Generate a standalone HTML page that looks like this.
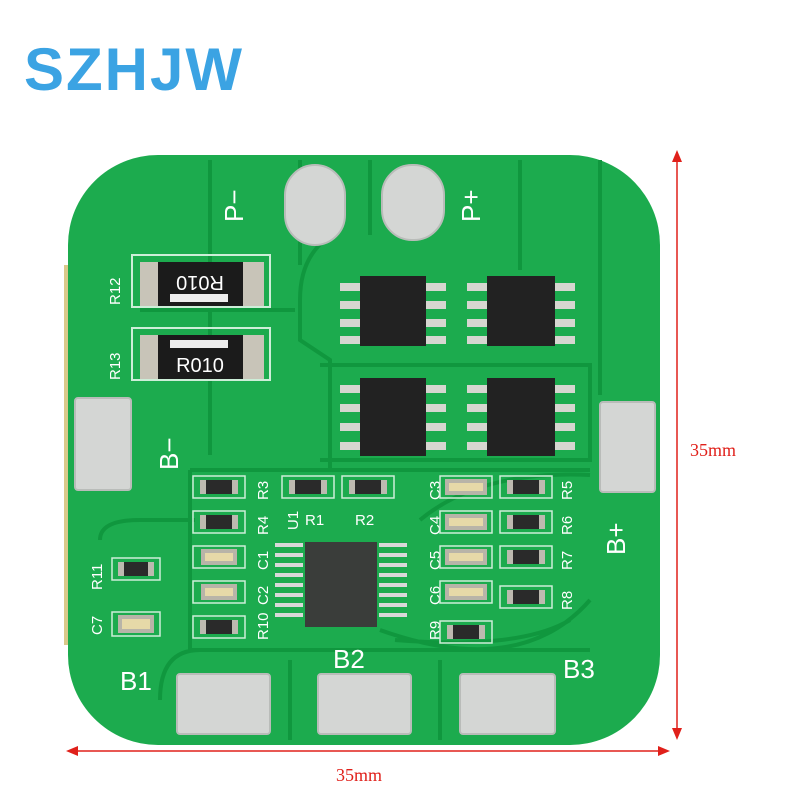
<!DOCTYPE html>
<html><head><meta charset="utf-8"><style>
html,body{margin:0;padding:0;background:#fff;width:800px;height:800px;overflow:hidden}
svg{display:block}
</style></head><body>
<svg width="800" height="800" viewBox="0 0 800 800" xmlns="http://www.w3.org/2000/svg" font-family="Liberation Sans, sans-serif">
<text x="24" y="90" font-size="60" font-weight="bold" fill="#3ba3e3" letter-spacing="2">SZHJW</text>
<!-- board -->
<rect x="64" y="265" width="10" height="380" fill="#d9c98a"/>
<rect x="68" y="155" width="592" height="590" rx="90" fill="#1cab4e"/>
<g stroke="#10973e" stroke-width="4" fill="none">
<path d="M210 160 V455 M300 160 V265 M370 160 V235 M520 160 V270 M600 160 V395 M140 310 H295"/>
<path d="M325 240 Q300 260 300 300 V340 L330 360 V470"/>
<path d="M320 365 H590 V460 H320"/>
<path d="M190 470 H590 M190 470 V650 H590 M200 650 Q160 650 160 700"/>
<path d="M290 660 V740 M440 660 V740 M100 540 Q100 520 140 520 H195"/>
<path d="M420 520 Q480 470 590 475 M395 640 Q520 650 570 620 M380 630 Q520 680 590 600"/>
</g>
<!-- labels -->
<g fill="#fff" font-size="26">
<text x="0" y="0" transform="translate(243,222) rotate(-90)">P−</text>
<text x="0" y="0" transform="translate(480,222) rotate(-90)">P+</text>
<text x="0" y="0" transform="translate(178,470) rotate(-90)">B−</text>
<text x="0" y="0" transform="translate(625,555) rotate(-90)">B+</text>
<text x="120" y="690">B1</text>
<text x="333" y="668">B2</text>
<text x="563" y="678">B3</text>
</g>
<g fill="#fff" font-size="15">
<text transform="translate(120,305) rotate(-90)">R12</text>
<text transform="translate(120,380) rotate(-90)">R13</text>
<text transform="translate(102,590) rotate(-90)">R11</text>
<text transform="translate(102,635) rotate(-90)">C7</text>
<text transform="translate(268,500) rotate(-90)">R3</text>
<text transform="translate(268,535) rotate(-90)">R4</text>
<text transform="translate(268,570) rotate(-90)">C1</text>
<text transform="translate(268,605) rotate(-90)">C2</text>
<text transform="translate(268,640) rotate(-90)">R10</text>
<text transform="translate(298,530) rotate(-90)">U1</text>
<text x="305" y="525">R1</text>
<text x="355" y="525">R2</text>
<text transform="translate(440,500) rotate(-90)">C3</text>
<text transform="translate(440,535) rotate(-90)">C4</text>
<text transform="translate(440,570) rotate(-90)">C5</text>
<text transform="translate(440,605) rotate(-90)">C6</text>
<text transform="translate(440,640) rotate(-90)">R9</text>
<text transform="translate(572,500) rotate(-90)">R5</text>
<text transform="translate(572,535) rotate(-90)">R6</text>
<text transform="translate(572,570) rotate(-90)">R7</text>
<text transform="translate(572,610) rotate(-90)">R8</text>
</g>
<!-- big pads -->
<g fill="#d4d6d4" stroke="#b9bcb9" stroke-width="2">
<rect x="285" y="165" width="60" height="80" rx="30"/>
<rect x="382" y="165" width="62" height="75" rx="30"/>
<rect x="75" y="398" width="56" height="92" rx="3"/>
<rect x="600" y="402" width="55" height="90" rx="3"/>
<rect x="177" y="674" width="93" height="60" rx="3"/>
<rect x="318" y="674" width="93" height="60" rx="3"/>
<rect x="460" y="674" width="95" height="60" rx="3"/>
</g>
<!-- shunt resistors -->
<g>
<rect x="132" y="255" width="138" height="52" fill="none" stroke="#cdeed8" stroke-width="2"/>
<rect x="132" y="328" width="138" height="52" fill="none" stroke="#cdeed8" stroke-width="2"/>
<rect x="140" y="262" width="124" height="44" fill="#c8c4b8"/>
<rect x="158" y="262" width="85" height="44" fill="#1b1b1b"/>
<rect x="140" y="335" width="124" height="44" fill="#c8c4b8"/>
<rect x="158" y="335" width="85" height="44" fill="#1b1b1b"/>
<rect x="170" y="294" width="58" height="8" fill="#eee"/>
<rect x="170" y="340" width="58" height="8" fill="#eee"/>
<text x="200" y="290" font-size="20" fill="#fff" text-anchor="middle" transform="rotate(180 200 283)">R010</text>
<text x="200" y="372" font-size="20" fill="#fff" text-anchor="middle">R010</text>
</g>
<!-- mosfets -->
<g>
<rect x="360" y="276" width="66" height="70" fill="#222"/>
<rect x="487" y="276" width="68" height="70" fill="#222"/>
<rect x="360" y="378" width="66" height="78" fill="#222"/>
<rect x="487" y="378" width="68" height="78" fill="#222"/>
<g fill="#d6d6d0">
<rect x="340" y="283" width="20" height="8"/><rect x="340" y="301" width="20" height="8"/><rect x="340" y="319" width="20" height="8"/><rect x="340" y="336" width="20" height="8"/>
<rect x="426" y="283" width="20" height="8"/><rect x="426" y="301" width="20" height="8"/><rect x="426" y="319" width="20" height="8"/><rect x="426" y="336" width="20" height="8"/>
<rect x="467" y="283" width="20" height="8"/><rect x="467" y="301" width="20" height="8"/><rect x="467" y="319" width="20" height="8"/><rect x="467" y="336" width="20" height="8"/>
<rect x="555" y="283" width="20" height="8"/><rect x="555" y="301" width="20" height="8"/><rect x="555" y="319" width="20" height="8"/><rect x="555" y="336" width="20" height="8"/>
<rect x="340" y="385" width="20" height="8"/><rect x="340" y="404" width="20" height="8"/><rect x="340" y="423" width="20" height="8"/><rect x="340" y="442" width="20" height="8"/>
<rect x="426" y="385" width="20" height="8"/><rect x="426" y="404" width="20" height="8"/><rect x="426" y="423" width="20" height="8"/><rect x="426" y="442" width="20" height="8"/>
<rect x="467" y="385" width="20" height="8"/><rect x="467" y="404" width="20" height="8"/><rect x="467" y="423" width="20" height="8"/><rect x="467" y="442" width="20" height="8"/>
<rect x="555" y="385" width="20" height="8"/><rect x="555" y="404" width="20" height="8"/><rect x="555" y="423" width="20" height="8"/><rect x="555" y="442" width="20" height="8"/>
</g>
</g>
<!-- IC -->
<rect x="305" y="542" width="72" height="85" fill="#3a3d3a"/>
<g fill="#d8d8d8">
<rect x="275" y="543" width="28" height="4"/><rect x="275" y="553" width="28" height="4"/><rect x="275" y="563" width="28" height="4"/><rect x="275" y="573" width="28" height="4"/><rect x="275" y="583" width="28" height="4"/><rect x="275" y="593" width="28" height="4"/><rect x="275" y="603" width="28" height="4"/><rect x="275" y="613" width="28" height="4"/>
<rect x="379" y="543" width="28" height="4"/><rect x="379" y="553" width="28" height="4"/><rect x="379" y="563" width="28" height="4"/><rect x="379" y="573" width="28" height="4"/><rect x="379" y="583" width="28" height="4"/><rect x="379" y="593" width="28" height="4"/><rect x="379" y="603" width="28" height="4"/><rect x="379" y="613" width="28" height="4"/>
</g>
<!-- small parts -->
<g stroke="#cdeed8" stroke-width="1.5" fill="none">
<rect x="193" y="476" width="52" height="22"/><rect x="193" y="511" width="52" height="22"/><rect x="193" y="546" width="52" height="22"/><rect x="193" y="581" width="52" height="22"/><rect x="193" y="616" width="52" height="22"/>
<rect x="282" y="476" width="52" height="22"/><rect x="342" y="476" width="52" height="22"/>
<rect x="440" y="476" width="52" height="22"/><rect x="440" y="511" width="52" height="22"/><rect x="440" y="546" width="52" height="22"/><rect x="440" y="581" width="52" height="22"/><rect x="440" y="621" width="52" height="22"/>
<rect x="500" y="476" width="52" height="22"/><rect x="500" y="511" width="52" height="22"/><rect x="500" y="546" width="52" height="22"/><rect x="500" y="586" width="52" height="22"/>
<rect x="112" y="558" width="48" height="22"/><rect x="112" y="612" width="48" height="24"/>
</g>
<g>
<g fill="#bdbab0">
<rect x="200" y="480" width="38" height="14"/><rect x="200" y="515" width="38" height="14"/><rect x="200" y="620" width="38" height="14"/>
<rect x="289" y="480" width="38" height="14"/><rect x="349" y="480" width="38" height="14"/>
<rect x="507" y="480" width="38" height="14"/><rect x="507" y="515" width="38" height="14"/><rect x="507" y="550" width="38" height="14"/><rect x="507" y="590" width="38" height="14"/>
<rect x="447" y="625" width="38" height="14"/><rect x="118" y="562" width="36" height="14"/>
</g>
<g fill="#2a2a2a">
<rect x="206" y="480" width="26" height="14"/><rect x="206" y="515" width="26" height="14"/><rect x="206" y="620" width="26" height="14"/>
<rect x="295" y="480" width="26" height="14"/><rect x="355" y="480" width="26" height="14"/>
<rect x="513" y="480" width="26" height="14"/><rect x="513" y="515" width="26" height="14"/><rect x="513" y="550" width="26" height="14"/><rect x="513" y="590" width="26" height="14"/>
<rect x="453" y="625" width="26" height="14"/><rect x="124" y="562" width="24" height="14"/>
</g>
<g fill="#e6d9a8" stroke="#b8b4a8" stroke-width="4">
<rect x="203" y="551" width="32" height="12"/><rect x="203" y="586" width="32" height="12"/>
<rect x="447" y="481" width="38" height="12"/><rect x="447" y="516" width="38" height="12"/><rect x="447" y="551" width="38" height="12"/><rect x="447" y="586" width="38" height="12"/>
<rect x="120" y="617" width="32" height="14"/>
</g>
</g>
<!-- dimension lines -->
<g stroke="#e0201a" stroke-width="1.5" fill="#e0201a">
<line x1="677" y1="158" x2="677" y2="732"/>
<path d="M677 150 L672 162 L682 162Z" stroke="none"/>
<path d="M677 740 L672 728 L682 728Z" stroke="none"/>
<line x1="74" y1="751" x2="662" y2="751"/>
<path d="M66 751 L78 746 L78 756Z" stroke="none"/>
<path d="M670 751 L658 746 L658 756Z" stroke="none"/>
</g>
<g fill="#e0201a" font-family="Liberation Serif, serif" font-size="18">
<text x="690" y="456">35mm</text>
<text x="336" y="781">35mm</text>
</g>
</svg>
</body></html>
